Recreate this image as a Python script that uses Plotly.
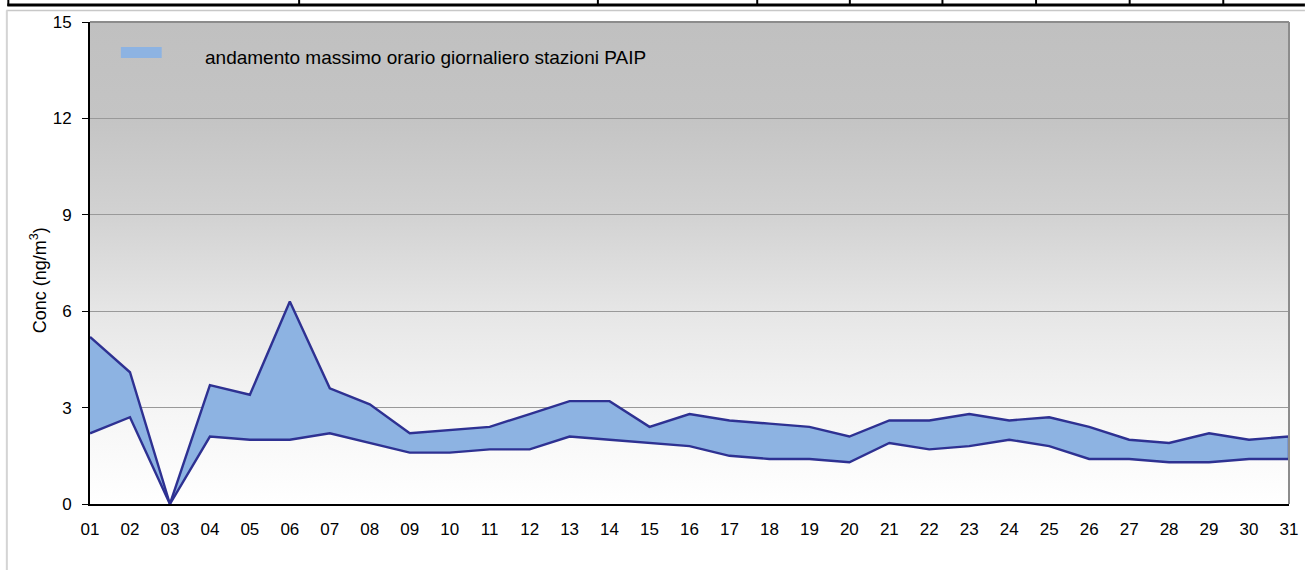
import base64

import plotly.graph_objects as go

# daily values, ng/m3
days = ["01", "02", "03", "04", "05", "06", "07", "08", "09", "10",
        "11", "12", "13", "14", "15", "16", "17", "18", "19", "20",
        "21", "22", "23", "24", "25", "26", "27", "28", "29", "30", "31"]
upper = [5.2, 4.1, 0.0, 3.7, 3.4, 6.3, 3.6, 3.1, 2.2, 2.3,
         2.4, 2.8, 3.2, 3.2, 2.4, 2.8, 2.6, 2.5, 2.4, 2.1,
         2.6, 2.6, 2.8, 2.6, 2.7, 2.4, 2.0, 1.9, 2.2, 2.0, 2.1]
lower = [2.2, 2.7, 0.0, 2.1, 2.0, 2.0, 2.2, 1.9, 1.6, 1.6,
         1.7, 1.7, 2.1, 2.0, 1.9, 1.8, 1.5, 1.4, 1.4, 1.3,
         1.9, 1.7, 1.8, 2.0, 1.8, 1.4, 1.4, 1.3, 1.3, 1.4, 1.4]
y_ticks = [0, 3, 6, 9, 12, 15]
legend_label = "andamento massimo orario giornaliero stazioni PAIP"
y_title = "Conc (ng/m<sup>3</sup>)"

FONT = "Liberation Sans, Arial, sans-serif"
LINE = "#2E3192"
FILL = "#8DB3E2"

x = list(range(len(days)))

# grey-to-white background gradient for the plot area
svg = (
    '<svg xmlns="http://www.w3.org/2000/svg" width="100" height="100" preserveAspectRatio="none">'
    '<defs><linearGradient id="g" x1="0" y1="0" x2="0" y2="1">'
    '<stop offset="0" stop-color="#c0c0c0"/>'
    '<stop offset="0.2" stop-color="#c4c4c4"/>'
    '<stop offset="0.4" stop-color="#d2d2d2"/>'
    '<stop offset="0.6" stop-color="#e6e6e6"/>'
    '<stop offset="0.8" stop-color="#f5f5f5"/>'
    '<stop offset="1" stop-color="#ffffff"/>'
    '</linearGradient></defs>'
    '<rect width="100" height="100" fill="url(#g)"/></svg>'
)
bg_src = "data:image/svg+xml;base64," + base64.b64encode(svg.encode()).decode()

fig = go.Figure()
fig.add_trace(go.Scatter(
    x=x, y=lower, mode="lines",
    line=dict(color=LINE, width=2.4),
    showlegend=False, hoverinfo="skip",
))
fig.add_trace(go.Scatter(
    x=x, y=upper, mode="lines", fill="tonexty", fillcolor=FILL,
    line=dict(color=LINE, width=2.4),
    showlegend=False, hoverinfo="skip",
))
# close the band at the right edge
fig.add_trace(go.Scatter(
    x=[x[-1], x[-1]], y=[lower[-1], upper[-1]], mode="lines",
    line=dict(color=LINE, width=2.4),
    showlegend=False, hoverinfo="skip",
))


def px_x(p):
    return (p - 90) / 1204


def px_y(p):
    return (504 - p) / 482


shapes = []
# plot area frame (top / right grey)
shapes.append(dict(type="line", xref="paper", yref="paper", x0=0, x1=1, y0=1, y1=1,
                   line=dict(color="#8c8c8c", width=2)))
shapes.append(dict(type="line", xref="paper", yref="paper", x0=1, x1=1, y0=0, y1=1,
                   line=dict(color="#8c8c8c", width=2)))
# chart frame of the spreadsheet
shapes.append(dict(type="line", xref="paper", yref="paper",
                   x0=px_x(6), x1=px_x(1310), y0=px_y(10.5), y1=px_y(10.5),
                   line=dict(color="#c8c8c8", width=1.5)))
shapes.append(dict(type="line", xref="paper", yref="paper",
                   x0=px_x(6.5), x1=px_x(6.5), y0=px_y(570), y1=px_y(10.5),
                   line=dict(color="#d4d4d4", width=2)))
# cut-off table row above the chart
shapes.append(dict(type="line", xref="paper", yref="paper",
                   x0=px_x(7), x1=px_x(1310), y0=px_y(5), y1=px_y(5),
                   line=dict(color="black", width=3)))
for cx in [8, 300, 600, 760, 853, 946, 1040, 1134, 1228]:
    shapes.append(dict(type="line", xref="paper", yref="paper",
                       x0=px_x(cx), x1=px_x(cx), y0=px_y(0), y1=px_y(6),
                       line=dict(color="black", width=2)))
# legend swatch
shapes.append(dict(type="rect", xref="paper", yref="paper",
                   x0=px_x(121), x1=px_x(162), y0=px_y(58), y1=px_y(47),
                   fillcolor=FILL, line=dict(width=0)))

fig.update_layout(
    width=1310, height=570,
    margin=dict(l=90, r=16, t=22, b=66),
    paper_bgcolor="white",
    plot_bgcolor="white",
    font=dict(family=FONT, size=17, color="black"),
    showlegend=False,
    images=[dict(source=bg_src, xref="paper", yref="paper", x=0, y=1,
                 sizex=1, sizey=1, sizing="stretch", layer="below",
                 xanchor="left", yanchor="top")],
    shapes=shapes,
    annotations=[
        dict(text=legend_label, xref="paper", yref="paper",
             x=px_x(203), y=px_y(58), xanchor="left", yanchor="middle",
             showarrow=False, font=dict(family=FONT, size=19, color="black")),
        # y axis title, sits a bit below the plot centre in the original
        dict(text=y_title, xref="paper", yref="paper", textangle=-90,
             x=px_x(38), y=px_y(280), xanchor="center", yanchor="middle",
             showarrow=False, font=dict(family=FONT, size=18, color="black")),
    ],
    xaxis=dict(
        range=[0, 30], tickmode="array", tickvals=x, ticktext=days,
        showgrid=False, zeroline=False,
        showline=True, linecolor="black", linewidth=2,
        ticks="outside", ticklen=9, tickcolor="rgba(0,0,0,0)",
        tickfont=dict(size=17),
    ),
    yaxis=dict(
        range=[0, 15], tickmode="array", tickvals=y_ticks,
        showgrid=True, gridcolor="#999999", gridwidth=1,
        zeroline=False,
        showline=True, linecolor="black", linewidth=2,
        ticks="outside", ticklen=6, tickcolor="black",
        ticklabelstandoff=7,
        tickfont=dict(size=17),
    ),
)

# the page has a default 8px body margin; drop it so the figure sits at 0,0
fig.write_html("out.html", config={"displayModeBar": False},
               post_script="document.body.style.margin='0';")
